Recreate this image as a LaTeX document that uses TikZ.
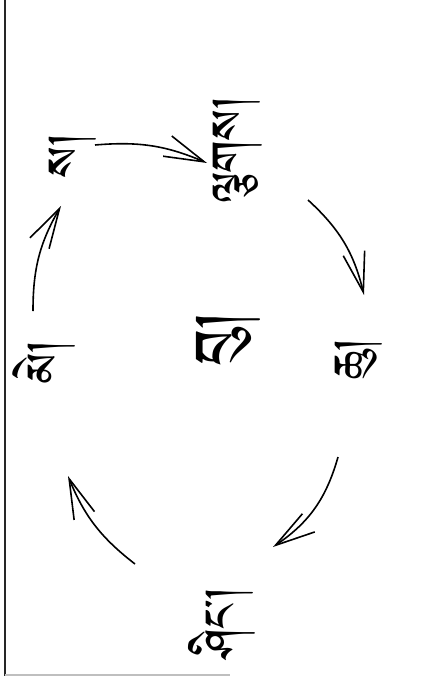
\documentclass[tikz,border=0pt]{standalone}
\usepackage{fontspec}
\usetikzlibrary{arrows.meta}
\IfFontExistsTF{Tibetan Machine Uni}{\newfontfamily\tibfont[Script=Tibetan]{Tibetan Machine Uni}}{%
 \IfFontExistsTF{Jomolhari}{\newfontfamily\tibfont[Script=Tibetan]{Jomolhari}}{%
  \IfFontExistsTF{Noto Serif Tibetan}{\newfontfamily\tibfont[Script=Tibetan]{Noto Serif Tibetan}}{%
   \newfontfamily\tibfont{DejaVu Sans}}}}
\tikzset{
  lbl/.style={rotate=90, inner sep=0pt, font=\tibfont\fontsize{56}{60}\selectfont},
  biglbl/.style={rotate=90, inner sep=0pt, font=\tibfont\fontsize{76}{80}\selectfont},
  cyc/.style={line width=1.6pt, -{Straight Barb[length=40pt,width=22pt,line width=1.6pt]}}
}
\begin{document}
\begin{tikzpicture}[x=1pt,y=-1pt]
\useasboundingbox (0,0) rectangle (420,676);
\fill[white] (0,0) rectangle (420,676);
\draw[line width=2.2pt, black!85] (5,0) -- (5,676);
\draw[line width=1.5pt, black!25] (5,675) -- (230,675);
% labels
\node[lbl] (sa) at (73,156) {ས།};
\node[lbl] (lcag) at (238,150) {ལྕགས།};
\node[lbl] (chu) at (359,359) {ཆུ།};
\node[biglbl] (bu) at (228,339) {བུ།};
\node[lbl] (me) at (44,362) {མེ།};
\node[lbl] (shing) at (222,623) {ཤིང།};
% arrow end points
\coordinate (a1s) at (95,145);  \coordinate (a1e) at (207,163);
\coordinate (a2s) at (308,200); \coordinate (a2e) at (364,295);
\coordinate (a3s) at (338,457); \coordinate (a3e) at (273,547);
\coordinate (a4s) at (135,564); \coordinate (a4e) at (68,476);
\coordinate (a5s) at (33,311);  \coordinate (a5e) at (61,206);
\draw[cyc] (a1s) to[bend left=14] (a1e);
\draw[cyc] (a2s) to[bend left=17] (a2e);
\draw[cyc] (a3s) to[bend left=20] (a3e);
\draw[cyc] (a4s) to[bend left=15] (a4e);
\draw[cyc] (a5s) to[bend left=15] (a5e);
\end{tikzpicture}
\end{document}
